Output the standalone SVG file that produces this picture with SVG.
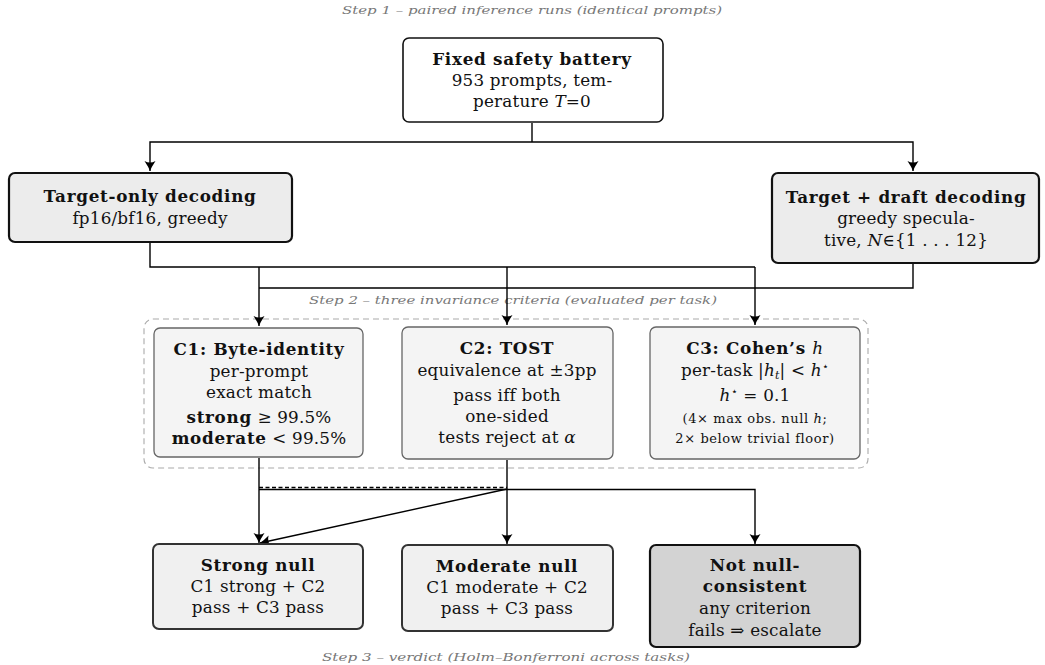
<svg xmlns="http://www.w3.org/2000/svg" width="1045" height="665" viewBox="0 0 1045 665">
<style>
text{font-family:"DejaVu Serif","Liberation Serif",serif;fill:#111;text-anchor:middle;font-size:16.8px;letter-spacing:0.2px}
.b{font-weight:bold;letter-spacing:0.7px}
.i{font-style:italic}
.cap{font-style:italic;fill:#777;font-size:11px;letter-spacing:0}
.sm{font-size:13px;letter-spacing:0.6px}
.con{fill:none;stroke:#000;stroke-width:1.4}
</style>
<defs>
<marker id="ar" markerUnits="userSpaceOnUse" markerWidth="14" markerHeight="14" viewBox="-11 -7 13 14" refX="0" refY="0" orient="auto">
<path d="M-10,-5.5 Q-4,-1.5 0,0 Q-4,1.5 -10,5.5 Q-7,0 -10,-5.5Z" fill="#000"/>
</marker>
</defs>

<text class="cap" x="532" y="14" textLength="380" lengthAdjust="spacingAndGlyphs">Step 1 – paired inference runs (identical prompts)</text>
<text class="cap" x="513" y="304" textLength="408" lengthAdjust="spacingAndGlyphs">Step 2 – three invariance criteria (evaluated per task)</text>
<text class="cap" x="506" y="661" textLength="368" lengthAdjust="spacingAndGlyphs">Step 3 – verdict (Holm–Bonferroni across tasks)</text>

<rect x="144" y="319" width="724" height="149" rx="9" fill="none" stroke="#aaa" stroke-width="1.1" stroke-dasharray="6,4"/>

<g id="connectors">
<path class="con" d="M532,123 V142"/>
<path class="con" d="M532,142 H150 V171" marker-end="url(#ar)"/>
<path class="con" d="M532,142 H913 V171" marker-end="url(#ar)"/>
<path class="con" d="M150,243 V267 H755"/>
<path class="con" d="M913,264 V288 H259"/>
<path class="con" d="M259,267 V326" marker-end="url(#ar)"/>
<path class="con" d="M507,267 V325" marker-end="url(#ar)"/>
<path class="con" d="M755,267 V325" marker-end="url(#ar)"/>
<path class="con" d="M259,458 V543" marker-end="url(#ar)"/>
<path class="con" d="M259,489.5 H755 V544" marker-end="url(#ar)"/>
<path class="con" d="M259,487.5 H507" stroke-dasharray="4,2.5"/>
<path class="con" d="M507,460 V544" marker-end="url(#ar)"/>
<path class="con" d="M507,489 L260,543" marker-end="url(#ar)"/>
</g>

<g id="battery">
<rect x="403" y="38" width="260" height="84" rx="6" fill="#fff" stroke="#111" stroke-width="1.6"/>
<text class="b" x="532" y="65">Fixed safety battery</text>
<text x="532" y="86">953 prompts, tem-</text>
<text x="532" y="107">perature <tspan class="i">T</tspan>=0</text>
</g>

<g id="target-only">
<rect x="9" y="173" width="283" height="69" rx="6" fill="#ececec" stroke="#111" stroke-width="2.2"/>
<text class="b" x="150" y="202">Target-only decoding</text>
<text x="150" y="224">fp16/bf16, greedy</text>
</g>

<g id="target-draft">
<rect x="772" y="173" width="267" height="90" rx="6" fill="#ececec" stroke="#111" stroke-width="2.2"/>
<text class="b" x="906" y="203">Target + draft decoding</text>
<text x="906" y="224">greedy specula-</text>
<text x="906" y="246">tive, <tspan class="i">N</tspan>∈{1 . . . 12}</text>
</g>

<g id="c1">
<rect x="154" y="328" width="209" height="129" rx="6" fill="#f4f4f4" stroke="#666" stroke-width="1.3"/>
<text class="b" x="259" y="355">C1: Byte-identity</text>
<text x="259" y="377">per-prompt</text>
<text x="259" y="398">exact match</text>
<text x="259" y="423"><tspan class="b">strong</tspan> ≥ 99.5%</text>
<text x="259" y="444"><tspan class="b">moderate</tspan> &lt; 99.5%</text>
</g>

<g id="c2">
<rect x="402" y="327" width="211" height="132" rx="6" fill="#f4f4f4" stroke="#666" stroke-width="1.3"/>
<text class="b" x="507" y="354">C2: TOST</text>
<text x="507" y="376">equivalence at ±3pp</text>
<text x="507" y="401">pass iff both</text>
<text x="507" y="422">one-sided</text>
<text x="507" y="443">tests reject at <tspan class="i">α</tspan></text>
</g>

<g id="c3">
<rect x="650" y="327" width="210" height="132" rx="6" fill="#f4f4f4" stroke="#666" stroke-width="1.3"/>
<text class="b" x="755" y="354">C3: Cohen’s <tspan class="i" font-weight="normal">h</tspan></text>
<text x="755" y="376">per-task |<tspan class="i">h</tspan><tspan class="i" font-size="11" dy="3">t</tspan><tspan dy="-3">| &lt; </tspan><tspan class="i">h</tspan><tspan font-size="11" dy="-6">⋆</tspan></text>
<text x="755" y="401"><tspan class="i">h</tspan><tspan font-size="11" dy="-6">⋆</tspan><tspan dy="6"> =  0.1</tspan></text>
<text class="sm" x="755" y="423">(4× max obs. null <tspan class="i">h</tspan>;</text>
<text class="sm" x="755" y="443">2× below trivial floor)</text>
</g>

<g id="strong">
<rect x="153" y="544" width="210" height="85" rx="6" fill="#f0f0f0" stroke="#333" stroke-width="2"/>
<text class="b" x="258" y="571">Strong null</text>
<text x="258" y="592">C1 strong + C2</text>
<text x="258" y="613">pass + C3 pass</text>
</g>

<g id="moderate">
<rect x="402" y="545" width="211" height="86" rx="6" fill="#f0f0f0" stroke="#333" stroke-width="2"/>
<text class="b" x="507" y="572">Moderate null</text>
<text x="507" y="593">C1 moderate + C2</text>
<text x="507" y="614">pass + C3 pass</text>
</g>

<g id="notnull">
<rect x="650" y="545" width="210" height="102" rx="6" fill="#d3d3d3" stroke="#111" stroke-width="2.2"/>
<text class="b" x="755" y="571">Not null-</text>
<text class="b" x="755" y="592">consistent</text>
<text x="755" y="614">any criterion</text>
<text x="755" y="636">fails ⇒ escalate</text>
</g>
</svg>
